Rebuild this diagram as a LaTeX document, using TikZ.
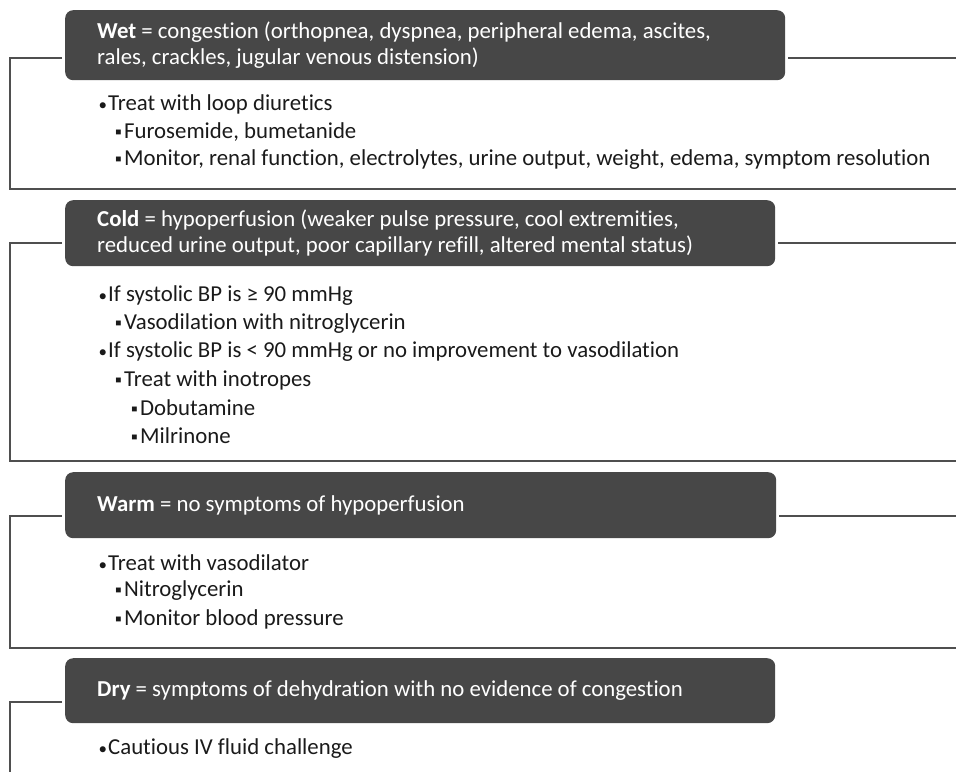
\documentclass[tikz,border=0pt]{standalone}
\usepackage{fontspec}
\setmainfont{Carlito}[Ligatures=NoCommon]
\usepackage{xcolor}
\usetikzlibrary{positioning}
\definecolor{hdrgray}{HTML}{474747}
\definecolor{framegray}{HTML}{4F4F4F}
\definecolor{txtgray}{HTML}{1A1A1A}
\newcommand{\bul}{\makebox[9.5pt][l]{\fontsize{17}{17}\selectfont •}}
\newcommand{\sqr}{\makebox[9pt][l]{\fontsize{19}{19}\selectfont ▪}}

\begin{document}
\begin{tikzpicture}[x=1pt,y=-1pt,
  hdr/.style={fill=hdrgray,rounded corners=8pt,anchor=north west,text=white,
    align=flush left,inner xsep=32pt,inner ysep=0pt,minimum height=66pt,text width=#1,
    font=\fontsize{22.8}{25.5}\selectfont},
  item/.style={anchor=west,inner sep=0pt,text=txtgray,font=\fontsize{22.8}{24}\selectfont},
  frame/.style={draw=framegray,line width=2pt}]
\useasboundingbox (0,0) rectangle (956,772);

% wet
\node[hdr=656pt,minimum height=70pt] (wet) at (65,10)
  {\textbf{Wet} = congestion (orthopnea, dyspnea, peripheral edema, ascites,\\
   rales, crackles, jugular venous distension)};
\coordinate (wetL) at (10,58);
\coordinate (wetR) at (956,58);
\coordinate (wetB) at (10,189);
\coordinate (wetE) at (956,189);
\draw[frame,shorten <=3pt] (wet.west |- wetL) -- (wetL) -- (wetB) -- (wetE);
\draw[frame,shorten <=3pt] (wet.east |- wetR) -- (wetR);
\node[item] (w1) at (98.5,104) {\bul Treat with loop diuretics};
\node[item] (w2) at (115,132) {\sqr Furosemide, bumetanide};
\node[item] (w3) at (115,160) {\sqr Monitor, renal function, electrolytes, urine output, weight, edema, symptom resolution};

% cold
\node[hdr=646pt] (cold) at (65,200)
  {\textbf{Cold} = hypoperfusion (weaker pulse pressure, cool extremities,\\
   reduced urine output, poor capillary refill, altered mental status)};
\coordinate (coldL) at (10,243);
\coordinate (coldR) at (956,243);
\coordinate (coldB) at (10,461);
\coordinate (coldE) at (956,461);
\draw[frame,shorten <=3pt] (cold.west |- coldL) -- (coldL) -- (coldB) -- (coldE);
\draw[frame,shorten <=3pt] (cold.east |- coldR) -- (coldR);
\node[item] (c1) at (98.5,296) {\bul If systolic BP is ≥ 90 mmHg};
\node[item] (c2) at (115,324) {\sqr Vasodilation with nitroglycerin};
\node[item] (c3) at (98.5,352) {\bul If systolic BP is < 90 mmHg or no improvement to vasodilation};
\node[item] (c4) at (115,380) {\sqr Treat with inotropes};
\node[item] (c5) at (131,408) {\sqr Dobutamine};
\node[item] (c6) at (131,436) {\sqr Milrinone};

% warm
\node[hdr=647pt] (warm) at (65,472)
  {\textbf{Warm} = no symptoms of hypoperfusion};
\coordinate (warmL) at (10,516);
\coordinate (warmR) at (956,516);
\coordinate (warmB) at (10,648);
\coordinate (warmE) at (956,648);
\draw[frame,shorten <=3pt] (warm.west |- warmL) -- (warmL) -- (warmB) -- (warmE);
\draw[frame,shorten <=3pt] (warm.east |- warmR) -- (warmR);
\node[item] (m1) at (98.5,563) {\bul Treat with vasodilator};
\node[item] (m2) at (115,591) {\sqr Nitroglycerin};
\node[item] (m3) at (115,619) {\sqr Monitor blood pressure};

% dry
\node[hdr=646pt,minimum height=65pt] (dry) at (65,658)
  {\textbf{Dry} = symptoms of dehydration with no evidence of congestion};
\coordinate (dryL) at (10,702);
\coordinate (dryB) at (10,772);
\draw[frame,shorten <=3pt] (dry.west |- dryL) -- (dryL) -- (dryB);
\node[item] (d1) at (98.5,749) {\bul Cautious IV fluid challenge};
\end{tikzpicture}
\end{document}
